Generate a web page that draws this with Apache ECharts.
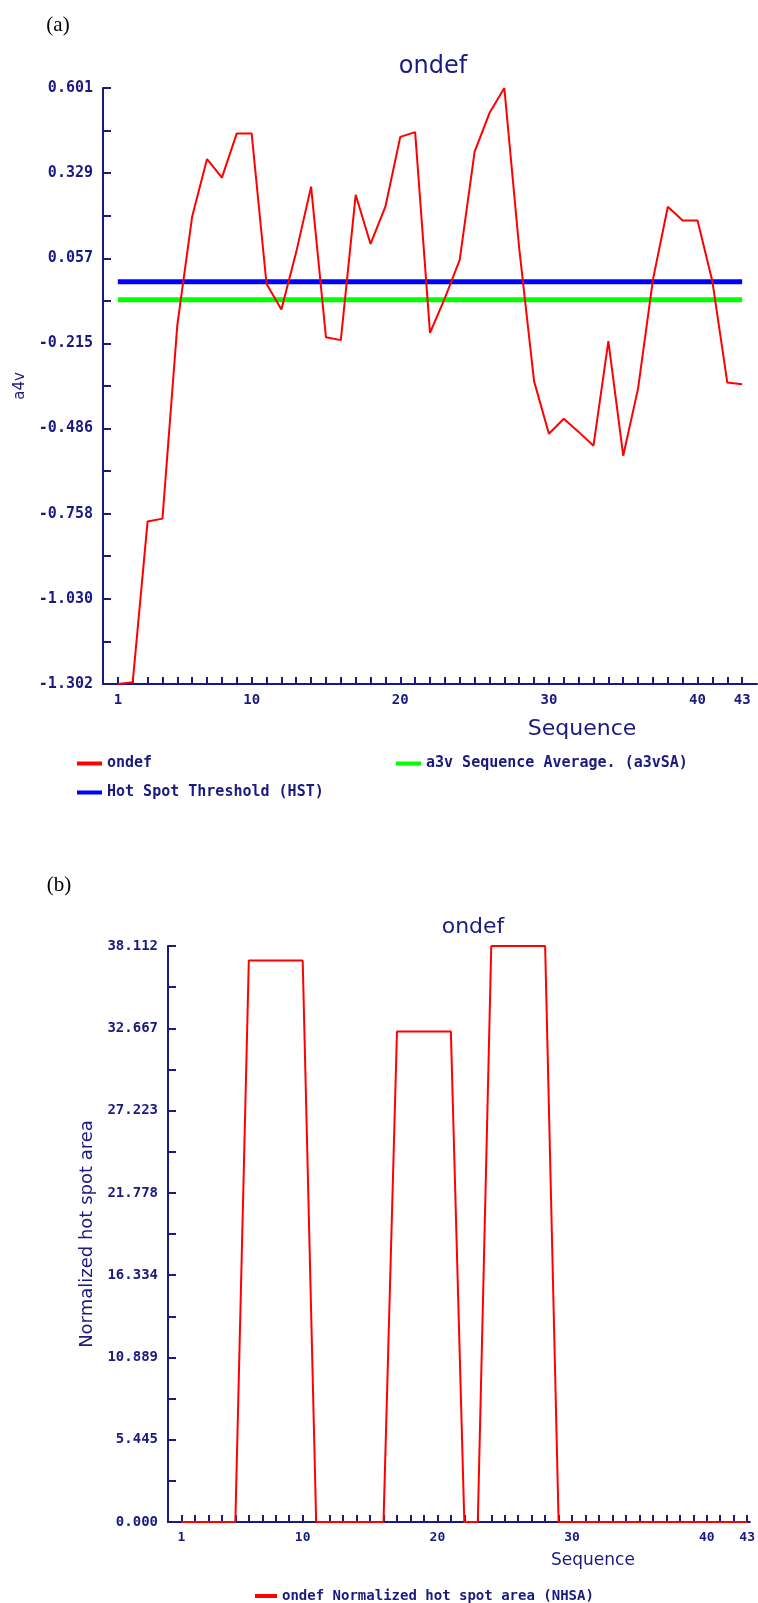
<!DOCTYPE html>
<html>
<head>
<meta charset="utf-8">
<script src="https://cdn.jsdelivr.net/npm/echarts@6/dist/echarts.min.js"></script>
<style>
html,body{margin:0;padding:0;background:#fff;}
#chart{width:758px;height:1603px;}
</style>
</head>
<body>
<div id="chart"></div>
<script>
// ---- data (a): a4v profile along the sequence ----
const sequence = [1,2,3,4,5,6,7,8,9,10,11,12,13,14,15,16,17,18,19,20,21,22,23,24,25,26,27,28,29,30,31,32,33,34,35,36,37,38,39,40,41,42,43];
const a4v = [-1.302,-1.296,-0.783,-0.774,-0.156,0.191,0.374,0.315,0.456,0.456,-0.024,-0.106,0.077,0.286,-0.195,-0.204,0.260,0.103,0.222,0.445,0.460,-0.181,-0.070,0.052,0.397,0.521,0.601,0.090,-0.335,-0.503,-0.455,-0.497,-0.541,-0.207,-0.573,-0.358,-0.011,0.222,0.178,0.178,-0.017,-0.339,-0.345];
const hstLevel = [-0.018, -0.018];   // Hot Spot Threshold at sequence 1 and 43
const avgLevel = [-0.075, -0.075];   // a3v Sequence Average at sequence 1 and 43
const levelSeq = [1, 43];
const yTickLabelsA = ['-1.302','-1.030','-0.758','-0.486','-0.215','0.057','0.329','0.601'];

// ---- data (b): normalized hot spot area ----
const nhsa = [0,0,0,0,0,37.15,37.15,37.15,37.15,37.15,0,0,0,0,0,0,32.45,32.45,32.45,32.45,32.45,0,0,38.112,38.112,38.112,38.112,38.112,0,0,0,0,0,0,0,0,0,0,0,0,0,0,0];
const yTickLabelsB = ['0.000','5.445','10.889','16.334','21.778','27.223','32.667','38.112'];
const xTickLabels = [1,10,20,30,40,43];

const NAVY = '#1a1a80';
const MONO = 'DejaVu Sans Mono';

function mids(arr){ const out=[]; for(let i=0;i<arr.length;i++){ out.push(arr[i]); if(i<arr.length-1) out.push((arr[i]+arr[i+1])/2);} return out; }
const yValsA = yTickLabelsA.map(Number);
const yValsB = yTickLabelsB.map(Number);

function xAxisCfg(gridIndex, max, fs, padLeft, nameFs, nameGap){
  return {
    type:'value', gridIndex, min:0, max,
    name:'Sequence', nameLocation:'middle', nameGap,
    nameTextStyle:{color:NAVY, fontSize:nameFs, fontFamily:'DejaVu Sans', padding:[0,0,0,padLeft]},
    axisLine:{show:true, onZero:false, lineStyle:{color:NAVY, width:2}},
    axisTick:{show:true, inside:true, length:7, customValues:sequence, lineStyle:{color:NAVY, width:2}},
    axisLabel:{show:true, customValues:xTickLabels, formatter:v=>String(v), color:NAVY, fontFamily:MONO, fontWeight:'bold', fontSize:fs, margin:9},
    splitLine:{show:false}
  };
}
function yAxisCfg(gridIndex, vals, name, nameFs, nameGap, fs){
  return {
    type:'value', gridIndex, min:vals[0], max:vals[vals.length-1],
    name, nameLocation:'middle', nameGap, nameRotate:90,
    nameTextStyle:{color:NAVY, fontSize:nameFs, fontFamily:'DejaVu Sans'},
    axisLine:{show:true, onZero:false, lineStyle:{color:NAVY, width:2}},
    axisTick:{show:true, inside:true, length:8, customValues:mids(vals), lineStyle:{color:NAVY, width:2}},
    axisLabel:{show:true, customValues:vals, formatter:v=>v.toFixed(3), color:NAVY, fontFamily:MONO, fontWeight:'bold', fontSize:fs, margin:10},
    splitLine:{show:false}
  };
}

const chart = echarts.init(document.getElementById('chart'), null, {renderer:'canvas'});
chart.setOption({
  animation:false,
  backgroundColor:'#ffffff',
  title:[
    {text:'(a)', left:53, top:10, textAlign:'center', textStyle:{color:'#000', fontFamily:'Liberation Serif', fontWeight:'normal', fontSize:21}},
    {text:'ondef', left:428, top:50, textAlign:'center', textStyle:{color:NAVY, fontFamily:'DejaVu Sans', fontWeight:'normal', fontSize:24}},
    {text:'(b)', left:54, top:870, textAlign:'center', textStyle:{color:'#000', fontFamily:'Liberation Serif', fontWeight:'normal', fontSize:21}},
    {text:'ondef', left:468, top:911, textAlign:'center', textStyle:{color:NAVY, fontFamily:'DejaVu Sans', fontWeight:'normal', fontSize:22}}
  ],
  legend:[
    {data:['ondef','Hot Spot Threshold (HST)'], orient:'vertical', left:72, top:751, itemGap:14, itemWidth:25, itemHeight:4, icon:'rect',
     textStyle:{color:NAVY, fontFamily:MONO, fontWeight:'bold', fontSize:15}},
    {data:['a3v Sequence Average. (a3vSA)'], orient:'vertical', left:391, top:751, itemWidth:25, itemHeight:4, icon:'rect',
     textStyle:{color:NAVY, fontFamily:MONO, fontWeight:'bold', fontSize:15}},
    {data:['ondef Normalized hot spot area (NHSA)'], orient:'horizontal', left:250, top:1584, itemWidth:22, itemHeight:4, icon:'rect',
     textStyle:{color:NAVY, fontFamily:MONO, fontWeight:'bold', fontSize:14}}
  ],
  grid:[
    {left:103, right:1, top:88, bottom:919, containLabel:false},
    {left:168, right:0, top:946, bottom:81, containLabel:false}
  ],
  xAxis:[
    xAxisCfg(0, 44, 14, 304, 22, 34),
    xAxisCfg(1, 43.2, 13, 268, 17, 30)
  ],
  yAxis:[
    yAxisCfg(0, yValsA, 'a4v', 15, 72, 15),
    yAxisCfg(1, yValsB, 'Normalized hot spot area', 18, 63, 14)
  ],
  series:[
    {name:'ondef', type:'line', xAxisIndex:0, yAxisIndex:0, data:sequence.map((s,i)=>[s,a4v[i]]),
     showSymbol:false, symbol:'none', clip:false, color:'#ff0000', lineStyle:{color:'#ff0000', width:2}, z:3},
    {name:'Hot Spot Threshold (HST)', type:'line', xAxisIndex:0, yAxisIndex:0, data:levelSeq.map((s,i)=>[s,hstLevel[i]]),
     showSymbol:false, symbol:'none', color:'#0000ff', lineStyle:{color:'#0000ff', width:5}, z:2},
    {name:'a3v Sequence Average. (a3vSA)', type:'line', xAxisIndex:0, yAxisIndex:0, data:levelSeq.map((s,i)=>[s,avgLevel[i]]),
     showSymbol:false, symbol:'none', color:'#00ff00', lineStyle:{color:'#00ff00', width:5}, z:2},
    {name:'ondef Normalized hot spot area (NHSA)', type:'line', xAxisIndex:1, yAxisIndex:1, data:sequence.map((s,i)=>[s,nhsa[i]]),
     showSymbol:false, symbol:'none', clip:false, color:'#ff0000', lineStyle:{color:'#ff0000', width:2}, z:3}
  ]
});
</script>
</body>
</html>
